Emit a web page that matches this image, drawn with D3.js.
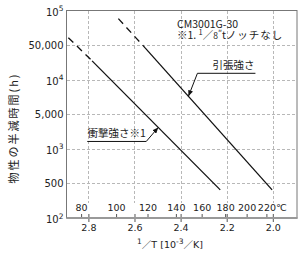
<!DOCTYPE html>
<html>
<head>
<meta charset="utf-8">
<script src="https://cdn.jsdelivr.net/npm/d3@7"></script>
<style>
  body { margin: 0; background: #fff; }
  svg { display: block; }
  text { font-family: 'DejaVu Sans', sans-serif; fill: #222; }
  .jp { font-family: 'Noto Sans CJK JP', sans-serif; }
</style>
</head>
<body>
<div id="chart"></div>
<script>
const invTTicks = [2.8, 2.6, 2.4, 2.2, 2.0];
const tempTicks = [80, 100, 120, 140, 160, 180, 200, 220];
const hourTicks = [100, 500, 1000, 5000, 10000, 50000, 100000];
const hourLabels = ['10^2', '500', '10^3', '5,000', '10^4', '50,000', '10^5'];

// first segment of each series is the dashed (extrapolated) part
const impactInvT = [2.887, 2.784, 2.228];
const impactHours = [58000, 24000, 370];
const tensileInvT = [2.67, 2.554, 2.003];
const tensileHours = [85000, 44000, 370];

const seriesNames = ['衝撃強さ※1', '引張強さ'];
const labelAtInvT = [2.497, 2.366];

const width = 304,
  height = 253,
  plot = { left: 66.5, right: 297, top: 10.5, bottom: 218 };

const toInvT = c => 1000 / (c + 273.15);

const x = d3
  .scaleLinear()
  .domain([2.895, 1.895])
  .range([plot.left, plot.right]);

// tick rows are evenly spaced in the original, so map them piecewise
const y = d3
  .scaleLog()
  .domain(hourTicks)
  .range(hourTicks.map((d, i) => plot.bottom - (i * (plot.bottom - plot.top)) / (hourTicks.length - 1)));

const svg = d3
  .select('#chart')
  .append('svg')
  .attr('width', width)
  .attr('height', height);

svg
  .append('defs')
  .append('marker')
  .attr('id', 'arrow')
  .attr('markerUnits', 'userSpaceOnUse')
  .attr('markerWidth', 7)
  .attr('markerHeight', 5)
  .attr('refX', 6)
  .attr('refY', 2.5)
  .attr('orient', 'auto')
  .append('path')
  .attr('d', 'M0,0 L6,2.5 L0,5 z')
  .attr('fill', '#111');

// grid
const grid = svg
  .append('g')
  .attr('stroke', '#b8b8b8')
  .attr('stroke-dasharray', '3,2')
  .attr('shape-rendering', 'crispEdges');

grid
  .selectAll('.vgrid')
  .data(invTTicks)
  .enter()
  .append('line')
  .attr('x1', d => Math.round(x(d)) + 0.5)
  .attr('x2', d => Math.round(x(d)) + 0.5)
  .attr('y1', plot.top)
  .attr('y2', plot.bottom - 15);

grid
  .selectAll('.hgrid')
  .data(hourTicks.slice(1, -1))
  .enter()
  .append('line')
  .attr('x1', plot.left)
  .attr('x2', plot.right)
  .attr('y1', d => Math.round(y(d)) + 0.5)
  .attr('y2', d => Math.round(y(d)) + 0.5);

// frame
svg
  .append('rect')
  .attr('x', plot.left)
  .attr('y', plot.top)
  .attr('width', plot.right - plot.left)
  .attr('height', plot.bottom - plot.top)
  .attr('fill', 'none')
  .attr('stroke', '#777')
  .attr('stroke-width', 1);

// 1/T axis, ticks cross the base line
const bottomAxis = svg
  .append('g')
  .attr('transform', `translate(0,${plot.bottom})`)
  .call(
    d3
      .axisBottom(x)
      .tickValues(invTTicks)
      .tickFormat(d3.format('.1f'))
      .tickSize(4)
      .tickPadding(2)
  );
bottomAxis.select('.domain').remove();
bottomAxis
  .selectAll('.tick line')
  .attr('y1', -4)
  .attr('stroke', '#555');
bottomAxis
  .selectAll('.tick text')
  .attr('font-family', 'DejaVu Sans')
  .attr('font-size', 9.5)
  .attr('fill', '#222');

// temperature scale inside the plot
const tempAxis = svg
  .append('g')
  .attr('transform', `translate(0,${plot.bottom})`)
  .call(
    d3
      .axisTop(x)
      .tickValues(tempTicks.map(toInvT))
      .tickFormat((d, i) => tempTicks[i])
      .tickSize(4)
      .tickPadding(3.5)
  );
tempAxis.select('.domain').remove();
tempAxis.selectAll('.tick line').attr('stroke', '#555');
tempAxis
  .selectAll('.tick text')
  .attr('font-family', 'DejaVu Sans')
  .attr('font-size', 9.5)
  .attr('fill', '#222');

svg
  .append('text')
  .attr('x', x(toInvT(tempTicks[tempTicks.length - 1])) + 9.5)
  .attr('y', plot.bottom - 7.5)
  .attr('font-size', 9.5)
  .text('℃');

svg
  .append('line')
  .attr('x1', plot.left)
  .attr('x2', plot.right + 0.5)
  .attr('y1', plot.bottom)
  .attr('y2', plot.bottom)
  .attr('stroke', '#999')
  .attr('stroke-width', 2);

// hours axis labels
const yLabels = svg
  .append('g')
  .selectAll('text')
  .data(hourTicks)
  .enter()
  .append('text')
  .attr('x', plot.left - 3)
  .attr('y', d => y(d))
  .attr('text-anchor', 'end')
  .attr('font-size', 10);

yLabels.each(function(d, i) {
  const parts = hourLabels[i].split('^');
  const el = d3.select(this);
  if (parts.length === 1) {
    el.attr('dy', '0.36em').text(parts[0]);
  } else {
    el.attr('dy', '0.5em');
    el.append('tspan').text(parts[0]);
    el.append('tspan')
      .attr('font-size', 7.5)
      .attr('dy', -4.5)
      .text(parts[1]);
  }
});

// axis titles
const xTitle = svg
  .append('text')
  .attr('x', 170)
  .attr('y', 248)
  .attr('text-anchor', 'middle')
  .attr('font-size', 9.5);
xTitle.append('tspan').attr('font-size', 7.5).attr('dy', -4).text('1');
xTitle.append('tspan').attr('class', 'jp').attr('dy', 4).text('／');
xTitle.append('tspan').text('T [10');
xTitle.append('tspan').attr('font-size', 7.5).attr('dy', -4.5).text('-3');
xTitle.append('tspan').attr('class', 'jp').attr('dy', 4.5).text('／');
xTitle.append('tspan').text('K]');

svg
  .append('text')
  .attr('class', 'jp')
  .attr('transform', 'translate(13,128) rotate(-90)')
  .attr('text-anchor', 'middle')
  .attr('dominant-baseline', 'central')
  .attr('font-size', 11)
  .attr('letter-spacing', 2)
  .text('物性の半減時間(h)');

// series
const ink = svg
  .append('g')
  .attr('fill', 'none')
  .attr('stroke', '#111')
  .attr('stroke-width', 1.3);

const lineFn = d3
  .line()
  .x(d => x(d[0]))
  .y(d => y(d[1]));

const drawSeries = (invT, hours) => {
  const pts = d3.zip(invT, hours);
  ink
    .append('path')
    .attr('d', lineFn(pts.slice(0, 2)))
    .attr('stroke-dasharray', '7,5');
  ink.append('path').attr('d', lineFn(pts.slice(1)));
  return pts;
};

const impactPts = drawSeries(impactInvT, impactHours);
const tensilePts = drawSeries(tensileInvT, tensileHours);

// point on the solid part of a series, in pixels
const pointOn = (pts, v) => {
  const a = [x(pts[1][0]), y(pts[1][1])],
    b = [x(pts[2][0]), y(pts[2][1])],
    px = x(v);
  return [px, a[1] + ((px - a[0]) / (b[0] - a[0])) * (b[1] - a[1])];
};

const drawLabel = (pts, i, elbowDx, elbowDy, underline) => {
  const tip = pointOn(pts, labelAtInvT[i]);
  const elbow = [tip[0] + elbowDx, tip[1] + elbowDy];
  const end = [elbow[0] + underline, elbow[1]];
  svg
    .append('path')
    .attr('d', d3.line()([end, elbow, tip]))
    .attr('fill', 'none')
    .attr('stroke', '#111')
    .attr('stroke-width', 1)
    .attr('marker-end', 'url(#arrow)');
  svg
    .append('text')
    .attr('class', 'jp')
    .attr('x', (elbow[0] + end[0]) / 2 + (underline > 0 ? 7 : 0))
    .attr('y', elbow[1] - 4)
    .attr('text-anchor', 'middle')
    .attr('font-size', 10.5)
    .text(seriesNames[i]);
};

drawLabel(impactPts, 0, -12, 14, -59);
drawLabel(tensilePts, 1, 9, -23, 58);

// grade note, two lines in one text block
const note = svg
  .append('text')
  .attr('class', 'jp')
  .attr('x', 177)
  .attr('y', 28)
  .attr('font-size', 10.5);
note.append('tspan').text('CM3001G-30');
note.append('tspan').attr('x', 177).attr('dy', 10.5).text('※1. ');
note.append('tspan').attr('font-size', 7.5).attr('dy', -3.5).text('1');
note.append('tspan').attr('dy', 3.5).text('／');
note.append('tspan').attr('font-size', 8.5).text('8');
note.append('tspan').attr('font-size', 8.5).attr('dy', -3).text('″');
note.append('tspan').attr('dy', 3).text('t');
note.append('tspan').attr('letter-spacing', 1).text('ノッチなし');
</script>
</body>
</html>
